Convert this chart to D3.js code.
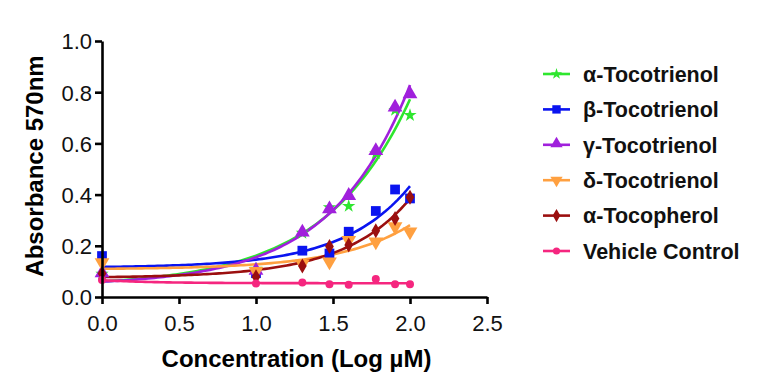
<!DOCTYPE html>
<html>
<head>
<meta charset="utf-8">
<script src="https://cdn.jsdelivr.net/npm/d3@7"></script>
<style>
  body { margin: 0; background: #fff; }
  svg { font-family: Arial, "Liberation Sans", sans-serif; }
</style>
</head>
<body>
<div id="chart"></div>
<script>
// Log concentration (1, 10, 20, 30, 40, 60, 80, 100 µM)
var logConc = [0, 1.0, 1.301, 1.477, 1.602, 1.778, 1.903, 2.0];

var names = ['α-Tocotrienol', 'β-Tocotrienol', 'γ-Tocotrienol', 'δ-Tocotrienol', 'α-Tocopherol', 'Vehicle Control'];
var colors = ['#2ee62e', '#0a14f0', '#a020dc', '#ffa040', '#9b0f0f', '#f5267f'];
var shapes = [d3.symbolStar, d3.symbolSquare, d3.symbolTriangle, d3.symbolTriangle, d3.symbolDiamond, d3.symbolCircle];

// Absorbance readings per compound
var alphaT3 = [0.09, 0.11, 0.25, 0.35, 0.355, 0.56, 0.73, 0.71];
var betaT3 = [0.16, 0.093, 0.181, 0.17, 0.255, 0.336, 0.42, 0.385];
var gammaT3 = [0.09, 0.10, 0.249, 0.34, 0.392, 0.567, 0.737, 0.789];
var deltaT3 = [0.135, 0.10, 0.13, 0.138, 0.222, 0.216, 0.275, 0.255];
var alphaToc = [0.092, 0.079, 0.121, 0.197, 0.203, 0.259, 0.307, 0.39];
var vehicle = [0.066, 0.053, 0.057, 0.05, 0.048, 0.07, 0.05, 0.05];

var xTicks = [0, 0.5, 1.0, 1.5, 2.0, 2.5];
var yTicks = [0, 0.2, 0.4, 0.6, 0.8, 1.0];

var seriesValues = [alphaT3, betaT3, gammaT3, deltaT3, alphaToc, vehicle];

var width = 758, height = 389;
var x = d3.scaleLinear().domain([0, 2.5]).range([102, 487]);
var y = d3.scaleLinear().domain([0, 1.0]).range([297, 41]);

var svg = d3.select('#chart').append('svg')
  .attr('width', width)
  .attr('height', height);

// Least squares fit of y = a + b*exp(k*x), grid search on k
function fitExp(xs, ys) {
  var best = null;
  var n = xs.length;
  for (var k = -3; k <= 6; k += 0.01) {
    var e = xs.map(function (v) { return Math.exp(k * v); });
    var se = d3.sum(e), sy = d3.sum(ys);
    var see = d3.sum(e, function (v) { return v * v; });
    var sey = d3.sum(e, function (v, i) { return v * ys[i]; });
    var det = n * see - se * se;
    if (Math.abs(det) < 1e-12) continue;
    var b = (n * sey - se * sy) / det;
    var a = (sy - b * se) / n;
    var sse = d3.sum(e, function (v, i) { var r = ys[i] - a - b * v; return r * r; });
    if (!best || sse < best.sse) best = { a: a, b: b, k: k, sse: sse };
  }
  return best;
}

function symbolFor(i, size) {
  var s = d3.symbol().type(shapes[i]).size(size);
  return s();
}
var sizes = [55, 95, 95, 95, 65, 50];
var legendSizes = [40, 70, 65, 65, 50, 40];

function markerTransform(i, px, py) {
  if (i === 3) return 'translate(' + px + ',' + py + ') rotate(180)';
  if (i === 2) return 'translate(' + px + ',' + (py - 1) + ')';
  return 'translate(' + px + ',' + py + ')';
}

// Fitted curves
var line = d3.line().x(function (d) { return x(d[0]); }).y(function (d) { return y(d[1]); });
var curves = svg.append('g').attr('class', 'curves');
var points = svg.append('g').attr('class', 'points');

seriesValues.forEach(function (vals, i) {
  var f = fitExp(logConc, vals);
  var samples = d3.range(0, 2.0001, 0.02).map(function (t) { return [t, f.a + f.b * Math.exp(f.k * t)]; });
  curves.append('path')
    .attr('d', line(samples))
    .attr('fill', 'none')
    .attr('stroke', colors[i])
    .attr('stroke-width', 2.6);
});

seriesValues.forEach(function (vals, i) {
  points.append('g')
    .selectAll('path')
    .data(vals)
    .join('path')
    .attr('d', symbolFor(i, sizes[i]))
    .attr('transform', function (d, j) { return markerTransform(i, x(logConc[j]), y(d)); })
    .attr('fill', colors[i]);
});

// Axes
var xAxis = svg.append('g')
  .attr('transform', 'translate(0,' + y(0) + ')')
  .call(d3.axisBottom(x).tickValues(xTicks).tickFormat(d3.format('.1f')).tickSize(7).tickPadding(11).tickSizeOuter(0));
var yAxis = svg.append('g')
  .attr('transform', 'translate(' + x(0) + ',0)')
  .call(d3.axisLeft(y).tickValues(yTicks).tickFormat(d3.format('.1f')).tickSize(7).tickPadding(3).tickSizeOuter(0));

[xAxis, yAxis].forEach(function (ax) {
  ax.attr('font-size', 22).attr('font-family', null);
  ax.select('.domain').attr('stroke', '#000').attr('stroke-width', 2.6);
  ax.selectAll('.tick line').attr('stroke', '#000').attr('stroke-width', 2.6);
  ax.selectAll('.tick text').attr('fill', '#111');
});
yAxis.selectAll('.tick text').attr('dy', '0.36em');

svg.append('text')
  .attr('x', (x(0) + x(2.5)) / 2 + 2)
  .attr('y', 367)
  .attr('text-anchor', 'middle')
  .attr('font-weight', 'bold')
  .attr('font-size', 24)
  .text('Concentration (Log µM)');

svg.append('text')
  .attr('transform', 'translate(43,' + ((y(0) + y(1)) / 2 - 3) + ') rotate(-90)')
  .attr('text-anchor', 'middle')
  .attr('font-weight', 'bold')
  .attr('font-size', 24)
  .text('Absorbance 570nm');

// Legend
var legend = svg.append('g').attr('class', 'legend');
names.forEach(function (name, i) {
  var ly = 74 + i * 35.4;
  var row = legend.append('g');
  row.append('line')
    .attr('x1', 543).attr('x2', 570)
    .attr('y1', ly).attr('y2', ly)
    .attr('stroke', colors[i])
    .attr('stroke-width', 2.6);
  row.append('path')
    .attr('d', symbolFor(i, legendSizes[i]))
    .attr('transform', markerTransform(i, 556.5, ly))
    .attr('fill', colors[i]);
  row.append('text')
    .attr('x', 583)
    .attr('y', ly)
    .attr('dy', '0.36em')
    .attr('font-weight', 'bold')
    .attr('font-size', 21.5)
    .attr('fill', '#111')
    .text(name);
});
</script>
</body>
</html>
